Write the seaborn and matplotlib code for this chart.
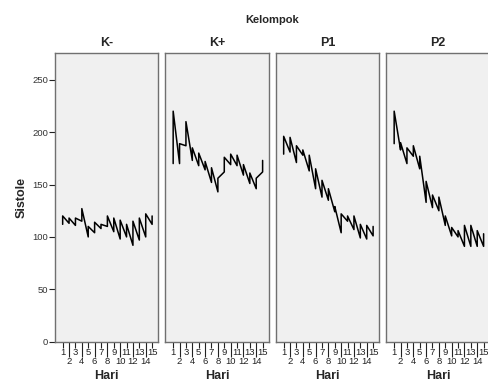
import matplotlib
matplotlib.use("Agg")
import matplotlib.pyplot as plt
import pandas as pd
import seaborn as sns


GROUPS = ["K-", "K+", "P1", "P2"]
DAYS = list(range(1, 16))

# two readings per day (first, second), joined in this order
SISTOLE_KMIN = [(112, 120), (113, 118), (111, 118), (115, 127), (100, 110),
                (104, 114), (108, 112), (110, 120), (105, 118), (98, 116),
                (100, 112), (92, 115), (97, 118), (100, 122), (112, 120)]
SISTOLE_KPLUS = [(170, 220), (170, 189), (187, 210), (173, 185), (168, 180),
                 (164, 172), (152, 166), (143, 156), (162, 176), (169, 179),
                 (168, 178), (159, 169), (151, 161), (146, 156), (162, 173)]
SISTOLE_P1 = [(179, 196), (181, 195), (171, 187), (178, 183), (163, 178),
              (146, 165), (138, 154), (135, 146), (124, 129), (104, 122),
              (115, 120), (107, 120), (99, 112), (98, 111), (101, 110)]
SISTOLE_P2 = [(189, 220), (183, 190), (170, 185), (177, 187), (165, 177),
              (133, 153), (128, 140), (125, 138), (111, 120), (101, 109),
              (100, 106), (91, 111), (91, 111), (91, 106), (91, 103)]

Y_TICKS = [0, 50, 100, 150, 200, 250]

FONT = ["Liberation Sans", "DejaVu Sans"]
PANEL_BG = "#f0f0f0"
EDGE = "#707070"


def build_frame() -> pd.DataFrame:
    rows = []
    for group, series in zip(GROUPS, [SISTOLE_KMIN, SISTOLE_KPLUS, SISTOLE_P1, SISTOLE_P2]):
        for day, pair in zip(DAYS, series):
            for v in pair:
                rows.append({"Kelompok": group, "Hari": day, "Sistole": v})
    return pd.DataFrame(rows)


def main() -> None:
    sns.set_theme(style="white")
    plt.rcParams["font.family"] = FONT

    df = build_frame()

    fig = plt.figure(figsize=(4.89, 3.83), dpi=100)
    bottom = 1 - 341.7 / 383
    height = (341.7 - 52.5) / 383
    left0 = 55 / 489
    width = 103.5 / 489
    step = 110.5 / 489

    for i, group in enumerate(GROUPS):
        ax = fig.add_axes([left0 + i * step, bottom, width, height])
        ax.set_facecolor(PANEL_BG)
        sub = df[df["Kelompok"] == group]
        sns.lineplot(data=sub, x="Hari", y="Sistole", estimator=None, sort=False,
                     color="black", linewidth=1.1, ax=ax)
        ax.set_xlim(-0.2, 16.0)
        ax.set_ylim(0, 276)

        for s in ax.spines.values():
            s.set_color(EDGE)
            s.set_linewidth(1.0)

        odd = [d for d in DAYS if d % 2 == 1]
        even = [d for d in DAYS if d % 2 == 0]
        ax.set_xticks(odd)
        ax.set_xticklabels([str(d) for d in odd])
        ax.set_xticks(even, minor=True)
        ax.set_xticklabels([str(d) for d in even], minor=True)
        ax.tick_params(axis="x", which="major", bottom=True, length=4, width=0.8,
                       color="#222222", labelsize=6.8, pad=0.5, labelcolor="#222222")
        ax.tick_params(axis="x", which="minor", bottom=True, length=11, width=0.8,
                       color="#222222", labelsize=6.8, pad=0, labelcolor="#222222")

        ax.set_title(group, fontsize=9, fontweight="bold", pad=5)
        ax.set_xlabel("Hari", fontsize=9, fontweight="bold", labelpad=3)

        if i == 0:
            ax.set_yticks(Y_TICKS)
            ax.set_yticklabels([str(t) for t in Y_TICKS])
            ax.tick_params(axis="y", left=True, length=4, width=0.8, color="#222222",
                           labelsize=6.8, pad=1, labelcolor="#333333")
            ax.set_ylabel("Sistole", fontsize=9, fontweight="bold", labelpad=3)
        else:
            ax.set_yticks([])
            ax.set_ylabel("")

    fig.text(272 / 489, 1 - 20 / 383, "Kelompok", ha="center", va="center",
             fontsize=8, fontweight="bold")

    fig.savefig("out.png", dpi=100, facecolor="white")
    plt.close(fig)


if __name__ == "__main__":
    main()
